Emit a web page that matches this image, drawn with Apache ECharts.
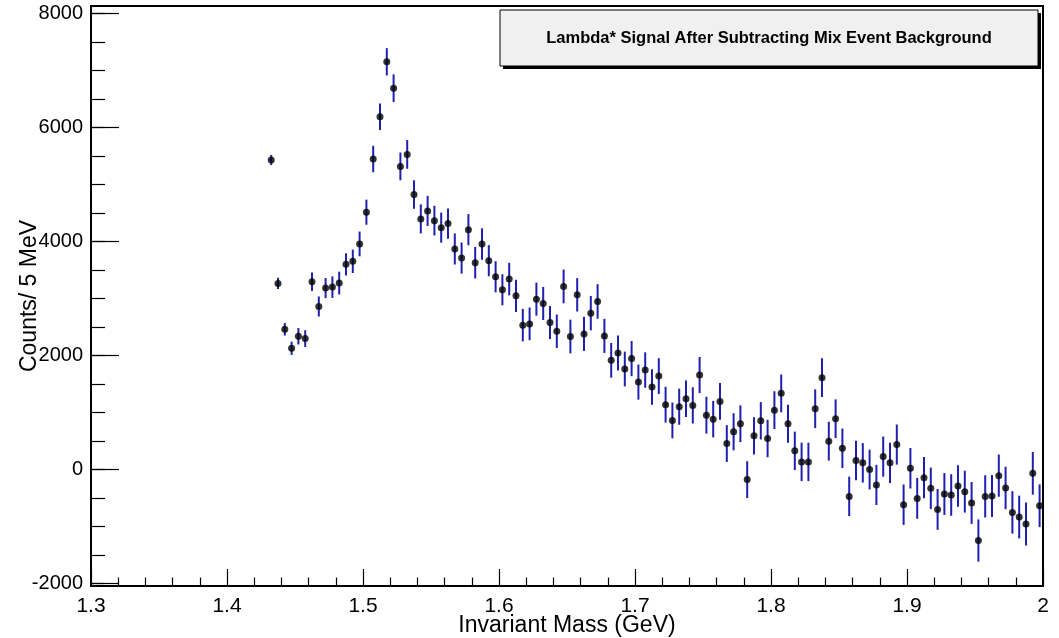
<!DOCTYPE html>
<html>
<head>
<meta charset="utf-8">
<title>Lambda* Signal After Subtracting Mix Event Background</title>
<script src="https://cdn.jsdelivr.net/npm/echarts@6/dist/echarts.min.js"></script>
<style>
  html, body { margin: 0; padding: 0; background: #fff; }
  #chart { width: 1059px; height: 638px; }
</style>
</head>
<body>
<div id="chart"></div>
<script>
// Histogram binning: 5 MeV bins starting at 1.430 GeV
const massLow = 1.430;
const binWidth = 0.005;

// Background-subtracted counts per bin
const counts = [
  5432, 3268, 2464, 2130, 2341, 2300, 3297, 2863, 3186, 3203, 3274, 3602,
  3655, 3960, 4517, 5449, 6193, 7155, 6692, 5320, 5531, 4827, 4399,
  4540, 4369, 4246, 4317, 3872, 3713, 4211, 3631, 3960, 3666, 3384, 3156,
  3344, 3050, 2535, 2558, 2992, 2916, 2582, 2429, 3215, 2336, 3068,
  2382, 2746, 2952, 2347, 1919, 2048, 1766, 1949, 1537, 1748, 1449, 1643,
  1140, 864, 1105, 1245, 1128, 1661, 957, 887, 1198, 459, 665,
  806, -174, 594, 858, 547, 1045, 1339, 806, 331, 137, 137, 1069,
  1615, 500, 894, 376, -468, 160, 120, 2, -267, 230, 120,
  441, -614, 25, -503, -139, -327, -697, -426, -443, -285, -385,
  -584, -1242, -468, -461, -104, -320, -749, -830, -953, -63, -632
];

// Statistical error of each bin
const errors = [
  88, 97, 111, 117, 144, 147, 161, 176, 176, 188, 200, 194,
  205, 217, 220, 232, 232, 240, 243, 243, 252, 249, 255,
  264, 261, 264, 264, 273, 273, 273, 276, 276, 273, 273, 273,
  285, 282, 285, 287, 290, 290, 290, 293, 296, 296, 293,
  299, 302, 302, 299, 305, 308, 305, 308, 308, 311, 311, 314,
  314, 314, 317, 320, 317, 317, 323, 320, 323, 323, 326,
  323, 323, 326, 328, 328, 331, 331, 334, 337, 337, 337, 340,
  340, 340, 340, 346, 346, 346, 346, 349, 352, 352, 352,
  352, 355, 355, 358, 361, 364, 358, 367, 364, 364, 367,
  367, 370, 370, 370, 370, 372, 372, 375, 378, 375, 375
];

// Axis tick values
const yMajorTicks = [-2000, 0, 2000, 4000, 6000, 8000];
const yMinorTicks = [];
for (let v = -2000; v <= 8000; v += 500) yMinorTicks.push(v);

const titleText = 'Lambda* Signal After Subtracting Mix Event Background';
const xTitle = 'Invariant Mass (GeV)';
const yTitle = 'Counts/ 5 MeV';

const points = counts.map((c, i) => [+(massLow + (i + 0.5) * binWidth).toFixed(4), c, errors[i]]);

const font = '"Liberation Sans", Arial, Helvetica, sans-serif';
const barColor = '#1f1fb0';
const plainNumber = v => String(+v.toFixed(4));

const chart = echarts.init(document.getElementById('chart'), null, { renderer: 'canvas' });

chart.setOption({
  animation: false,
  backgroundColor: '#ffffff',
  grid: {
    left: 91, right: 16, top: 6, bottom: 52,
    outerBoundsMode: 'none',
    containLabel: false,
    show: true, borderColor: '#000', borderWidth: 2, backgroundColor: 'transparent'
  },
  xAxis: {
    type: 'value',
    min: 1.3, max: 2.0, interval: 0.1,
    name: xTitle,
    nameLocation: 'middle',
    nameGap: 28,
    nameMoveOverlap: false,
    nameTextStyle: { fontFamily: font, fontSize: 23, color: '#000' },
    axisLine: { show: true, onZero: false, lineStyle: { color: '#000', width: 2 } },
    axisTick: { show: true, inside: true, length: 17, lineStyle: { color: '#000', width: 1.2 } },
    minorTick: { show: true, splitNumber: 5, length: 8.5, lineStyle: { color: '#000', width: 1.2 } },
    axisLabel: { fontFamily: font, fontSize: 21, color: '#000', margin: 10, formatter: plainNumber },
    splitLine: { show: false }
  },
  yAxis: [
    {
      type: 'value',
      min: -2040, max: 8134,
      position: 'left',
      name: yTitle,
      nameLocation: 'middle',
      nameGap: 50,
      nameMoveOverlap: false,
      nameRotate: 90,
      nameTextStyle: { fontFamily: font, fontSize: 23, color: '#000' },
      axisLine: { show: true, onZero: false, lineStyle: { color: '#000', width: 2 } },
      axisTick: { show: true, inside: true, length: 28, customValues: yMajorTicks, lineStyle: { color: '#000', width: 1.2 } },
      axisLabel: { fontFamily: font, fontSize: 20, color: '#000', margin: 8, customValues: yMajorTicks, formatter: plainNumber },
      splitLine: { show: false }
    },
    {
      type: 'value',
      min: -2040, max: 8134,
      position: 'left',
      offset: 0,
      axisLine: { show: false, onZero: false },
      axisTick: { show: true, inside: true, length: 14, customValues: yMinorTicks, lineStyle: { color: '#000', width: 1.2 } },
      axisLabel: { show: false },
      splitLine: { show: false }
    }
  ],
  series: [
    {
      type: 'custom',
      name: 'errors',
      data: points,
      encode: { x: 0, y: 1 },
      renderItem: function (params, api) {
        const x = api.value(0), v = api.value(1), e = api.value(2);
        const p1 = api.coord([x, v + e]);
        const p2 = api.coord([x, v - e]);
        return {
          type: 'line',
          shape: { x1: p1[0], y1: p1[1], x2: p2[0], y2: p2[1] },
          style: { stroke: barColor, lineWidth: 2 }
        };
      },
      z: 2
    },
    {
      type: 'scatter',
      name: 'counts',
      data: points.map(p => [p[0], p[1]]),
      symbol: 'circle',
      symbolSize: 7,
      itemStyle: { color: '#000' },
      z: 3
    }
  ],
  graphic: [
    {
      type: 'rect',
      shape: { x: 503, y: 13, width: 538, height: 56 },
      style: { fill: '#000' },
      z: 10
    },
    {
      type: 'rect',
      shape: { x: 500, y: 10, width: 538, height: 56 },
      style: { fill: '#f0f0f0', stroke: '#000', lineWidth: 1 },
      z: 11
    },
    {
      type: 'text',
      x: 769, y: 38,
      style: {
        text: titleText,
        fontFamily: font, fontSize: 16.5, fontWeight: 'bold',
        fill: '#000', align: 'center', verticalAlign: 'middle'
      },
      z: 12
    }
  ]
});
</script>
</body>
</html>
